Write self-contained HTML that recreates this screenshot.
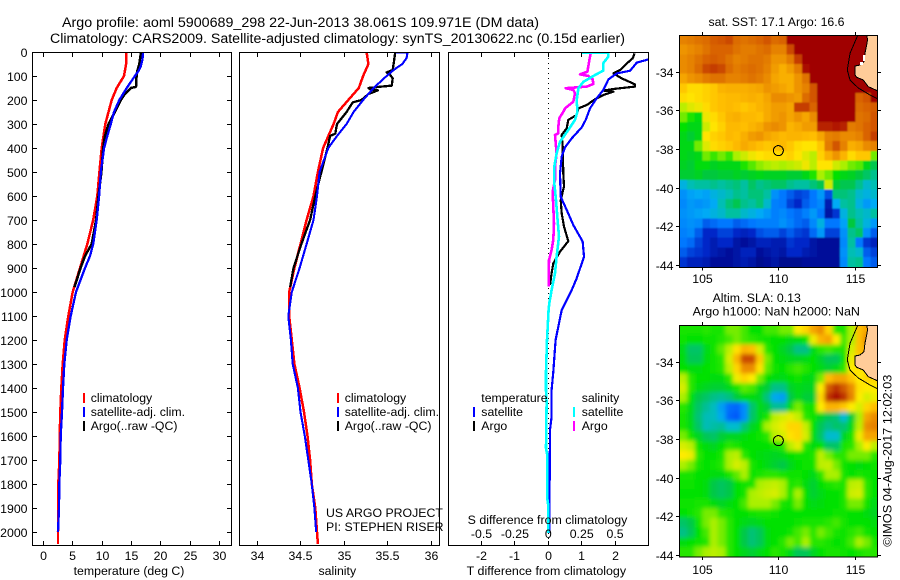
<!DOCTYPE html>
<html lang="en">
<head>
<meta charset="utf-8">
<title>Argo profile 5900689_298</title>
<style>
html,body{margin:0;padding:0;background:#fff;}
svg{display:block;font-family:"Liberation Sans",sans-serif;font-size:12.3px;fill:#000;}
text{stroke:none;fill:#000;}
.t14{font-size:14.1px;}
</style>
</head>
<body>
<svg id="chart" xmlns="http://www.w3.org/2000/svg" width="900" height="580" viewBox="0 0 900 580" shape-rendering="crispEdges">
<defs>
<clipPath id="clipT"><rect x="33" y="53" width="198" height="492"/></clipPath>
<clipPath id="clipS"><rect x="240" y="53" width="199" height="492"/></clipPath>
<clipPath id="clipD"><rect x="449" y="53" width="199" height="492"/></clipPath>
<clipPath id="clipM1"><rect x="680" y="36" width="197" height="231"/></clipPath>
<clipPath id="clipM2"><rect x="680" y="326" width="197" height="231"/></clipPath>
<filter id="blurSmall" x="-5%" y="-5%" width="110%" height="110%"><feGaussianBlur stdDeviation="0.8"/></filter>
<filter id="blurBig" x="-5%" y="-5%" width="110%" height="110%"><feGaussianBlur stdDeviation="2.2"/></filter>
</defs>
<rect x="0" y="0" width="900" height="580" fill="#fff"/>
<text class="t14" x="62" y="27" textLength="477" lengthAdjust="spacingAndGlyphs">Argo profile: aoml 5900689_298 22-Jun-2013 38.061S 109.971E (DM data)</text>
<text class="t14" x="50" y="43" textLength="575" lengthAdjust="spacingAndGlyphs">Climatology: CARS2009. Satellite-adjusted climatology: synTS_20130622.nc (0.15d earlier)</text>
<g id="layer"></g>
<g>
<rect x="83" y="393" width="2" height="10" fill="#f00"/>
<text x="90.7" y="402">climatology</text>
<rect x="83" y="407" width="2" height="10" fill="#00f"/>
<text x="90.7" y="416">satellite-adj. clim.</text>
<rect x="83" y="421" width="2" height="10" fill="#000"/>
<text x="90.7" y="430">Argo(..raw -QC)</text>
</g>
<g>
<rect x="337" y="393" width="2" height="10" fill="#f00"/>
<text x="344.7" y="402">climatology</text>
<rect x="337" y="407" width="2" height="10" fill="#00f"/>
<text x="344.7" y="416">satellite-adj. clim.</text>
<rect x="337" y="421" width="2" height="10" fill="#000"/>
<text x="344.7" y="430">Argo(..raw -QC)</text>
</g>
<text x="326" y="517">US ARGO PROJECT</text>
<text x="326" y="531">PI: STEPHEN RISER</text>
<g>
<text x="481.3" y="402">temperature</text>
<rect x="473" y="407" width="2" height="10" fill="#00f"/>
<text x="481.3" y="416">satellite</text>
<rect x="473" y="421" width="2" height="10" fill="#000"/>
<text x="481.3" y="430">Argo</text>
<text x="581.7" y="402">salinity</text>
<rect x="573" y="407" width="2" height="10" fill="#0ff"/>
<text x="581.7" y="416">satellite</text>
<rect x="573" y="421" width="2" height="10" fill="#f0f"/>
<text x="581.7" y="430">Argo</text>
</g>
<text x="129" y="575" text-anchor="middle">temperature (deg C)</text>
<text x="337.3" y="575" text-anchor="middle">salinity</text>
<text x="467.7" y="524" textLength="159.6" lengthAdjust="spacingAndGlyphs">S difference from climatology</text>
<text x="466.7" y="575" textLength="159.4" lengthAdjust="spacingAndGlyphs">T difference from climatology</text>
<text x="776.5" y="26" text-anchor="middle">sat. SST: 17.1 Argo: 16.6</text>
<text x="756.7" y="302" text-anchor="middle">Altim. SLA: 0.13</text>
<text x="692.7" y="315.5" textLength="167.3" lengthAdjust="spacingAndGlyphs">Argo h1000: NaN h2000: NaN</text>
<text transform="translate(891.5 546.7) rotate(-90)" textLength="172" lengthAdjust="spacingAndGlyphs">©IMOS 04-Aug-2017 12:02:03</text>
</svg>
<script>
// Depth profile panels: data
const depthTicks = [0,100,200,300,400,500,600,700,800,900,1000,1100,1200,1300,1400,1500,1600,1700,1800,1900,2000];
const tempTicks = [0,5,10,15,20,25,30];
const salTicks = [34,34.5,35,35.5,36];
const salTickLabels = ['34','34.5','35','35.5','36'];
const tDiffTicks = [-2,-1,0,1,2];
const sDiffTicks = [-0.5,-0.25,0,0.25,0.5];
const sDiffTickLabels = ['-0.5','-0.25','0','0.25','0.5'];

const climDepths = [0,50,100,150,200,250,300,400,500,600,700,800,900,1000,1100,1200,1300,1400,1500,1600,1700,1800,1900,2000,2050];
const tempClim = [14.1,14.1,13.75,12.5,11.65,11.1,10.56,9.95,9.55,9.2,8.5,7.5,6.25,5.0,4.26,3.64,3.3,3.07,2.9,2.8,2.75,2.55,2.55,2.5,2.5];
const salClim = [35.26,35.28,35.22,35.17,35.05,34.93,34.88,34.76,34.7,34.65,34.57,34.5,34.43,34.37,34.37,34.4,34.43,34.49,34.54,34.58,34.61,34.63,34.67,34.69,34.7];

const tempSatDepths = [0,30,60,80,100,150,200,250,300,350,400,500,600,700,800,850,900,1000,1100,1200,1300,1400,1500,1600,1700,1800,1900,2000];
const tempSat = [17.0,16.9,16.6,16.2,15.6,14.2,12.95,12.05,11.5,10.9,10.35,9.8,9.5,9.1,8.5,7.95,7.1,5.57,4.67,3.98,3.58,3.36,3.19,2.96,2.9,2.73,2.68,2.5];
const tempArgoDepths = [0,50,80,100,145,150,175,200,250,300,350,400,500,600,700,800,850,900,980];
const tempArgo = [16.65,16.35,16.0,15.9,15.8,14.9,13.9,13.2,12.2,11.1,10.5,10.2,9.9,9.4,9.0,8.25,7.1,6.35,5.3];

const salSatDepths = [0,2,25,50,75,100,150,200,250,300,350,400,500,600,700,800,900,1000,1100,1200,1300,1400,1500,1600,1700,1800,1900,2000];
const salSat = [35.51,35.73,35.72,35.67,35.57,35.49,35.34,35.22,35.11,35.03,34.92,34.82,34.72,34.69,34.65,34.57,34.49,34.4,34.36,34.39,34.41,34.47,34.5,34.55,34.59,34.63,34.66,34.68];
const salArgoDepths = [0,50,75,85,95,110,140,145,150,155,160,175,200,210,250,300,340,350,400,500,600,700,800,900,980];
const salArgo = [35.59,35.57,35.56,35.49,35.53,35.56,35.55,35.41,35.28,35.3,35.39,35.28,35.2,35.1,35.03,34.92,34.9,34.84,34.81,34.74,34.67,34.61,34.51,34.42,34.38];

const tDiffSatDepths = [25,31,44,78,89,114,158,193,235,283,314,360,397,436,506,603,658,721,790,853,943,992,1075,1200,1332,1408,1519,1575,2005];
const tDiffSat = [3.1,3.0,2.65,2.45,2.05,1.8,1.65,1.45,1.25,1.12,1.0,0.7,0.5,0.4,0.35,0.37,0.55,0.75,1.03,1.07,0.85,0.7,0.4,0.22,0.15,0.1,0.1,0.05,0.03];
const tDiffArgoDepths = [6,26,54,75,89,110,135,144,154,161,165,179,197,221,235,262,283,318,346,394,506,561,617,672,728,788,832,881,922,971];
const tDiffArgo = [2.58,2.53,2.3,2.15,1.95,2.2,2.6,2.6,1.95,1.65,1.95,1.65,1.4,1.15,0.9,0.85,0.6,0.55,0.4,0.43,0.45,0.47,0.37,0.4,0.47,0.6,0.35,0.15,0.1,0.05];
const sDiffSatDepths = [2,3,19,47,78,96,124,151,200,249,283,325,374,422,478,547,617,686,769,853,922,992,1047,1075,1200,1332,1408,1464,1651,1679,1861,1889,2005];
const sDiffSat = [0.25,0.45,0.45,0.41,0.41,0.35,0.2625,0.225,0.2125,0.2175,0.2,0.15,0.0875,0.0625,0.045,0.045,0.0575,0.0675,0.08,0.0625,0.05,0.025,0.0075,0.0025,-0.01,-0.0175,-0.0175,-0.0125,-0.0175,-0.0075,-0.0075,0,0];
const sDiffArgoDepths = [6,33,82,93,100,114,133,144,151,158,172,207,235,249,276,311,339,346,422,478,533,582,644,714,783,825,867,978];
const sDiffArgo = [0.3175,0.3075,0.2925,0.2375,0.3,0.3325,0.3375,0.2875,0.13,0.1875,0.2,0.1875,0.125,0.1125,0.0825,0.075,0.075,0.05,0.0625,0.05,0.05,0.0325,0.0375,0.0425,0.0375,0.025,0.005,0.0025];

// Map panels: data
const lonTicks = [105,110,115];
const latTicks = [34,36,38,40,42,44];
const argoLon = 109.971;
const argoLat = 38.061;
const sstGrid = [
[17.6,17.7,17.8,17.9,18.1,18.2,18.3,17.9,17.8,17.9,18.0,18.2,17.9,18.0,19,19,19,19,19,19,19,19,19,19,19,19],
[17.4,17.5,17.6,17.8,18,18,18,17.8,17.7,17.7,17.8,17.9,17.6,17.6,18.3,19,19,19,19,19,19,19,19,19,19,19],
[17.5,17.6,17.8,18.0,18.1,18.0,17.8,17.6,17.7,17.8,17.8,17.7,17.4,17.4,17.7,18.4,19,19,19,19,19,19,19,19,19,19],
[17.5,17.6,17.9,18.3,18.4,18.3,17.9,17.7,17.8,17.9,17.8,17.6,17.3,17,17.3,17.7,18.8,19,19,19,19,19,19,19,19,19],
[17.2,17.4,17.5,17.7,17.8,17.8,17.6,17.6,17.7,17.8,17.7,17.5,17.2,17,17,17.4,17.8,19,19,19,19,19,19,19,19,19],
[16.6,16.4,16.4,16.5,16.6,16.9,17,17,17.0,17.1,17.2,17.4,17.3,17.2,17,17.4,17.6,18.2,19,19,19,19,19,19,19,19],
[16.4,16.3,16.4,16.5,16.6,16.7,16.8,16.8,16.9,17,16.9,17.2,17.5,17.5,17.4,17.3,17.9,18.2,19,19,19,19,19,18.0,18.2,19],
[15.9,16.1,16.2,16.4,16.6,16.7,16.8,16.7,16.6,16.7,16.9,17.1,17.3,17.3,17.2,18.4,18.4,18.0,19,19,19,19,19,17.9,18,18.1],
[15.6,15.3,15.1,16.2,16.4,16.6,16.9,17,16.8,16.8,16.7,17.1,17.3,17.4,17.2,17.4,17.2,17.5,19,19,19,19,19,17.8,17.9,18.2],
[15.2,15,15,16,16.3,16.5,16.8,16.8,16.7,16.9,17.1,17.4,17.5,17.4,16.9,17.1,17.3,17.3,18.6,18.6,18.7,18.6,17.7,17.8,18,18.2],
[15,14.8,15,16.3,16.5,16.6,16.8,16.7,17,17.3,17.4,17.2,17,16.8,16.9,16.9,16.8,16.7,17.2,17.6,17.7,17.5,17.5,17.6,18,18.4],
[15,15,15.6,16.1,16.4,16.5,16.6,16.8,17.1,16.9,16.7,16.6,16.7,16.8,16.6,16.4,16.3,16.3,16.6,17.7,18.2,17.6,17,17.2,17.5,17.6],
[15,14.9,15,15.6,15.4,15.6,15.4,15.8,16,16.2,16.3,16.4,16.4,16.4,16.5,16.3,16.1,15.9,16.5,17.0,17.4,16.9,16.4,16.6,16.6,15.6],
[14.9,14.8,15.1,15.1,14.9,15.0,15,15,15.3,15.5,15.7,15.8,15.9,15.8,15.9,16,16.2,15.9,16.3,16.3,16,15.8,15.6,15.5,15,14.6],
[14.8,14.8,14.9,14.7,14.7,14.8,14.8,14.9,14.8,14.9,15,14.9,14.9,14.9,14.8,14.8,15,15.3,15.8,15.6,15.2,15,14.9,14.7,14.5,14.3],
[13.9,14.1,14.2,14.2,14.3,14.2,14.3,14.4,14.2,14.5,14.3,14.4,14.5,14.5,14.3,14.2,14.2,14.4,14.6,16,14.8,14.6,14.6,14.3,14,14.1],
[13.5,13.7,13.8,13.7,13.9,14,14.1,14.3,14.2,14.4,14.4,14.2,13.5,13.2,13.0,12.8,12.9,13.2,13.6,12.9,14.4,14.4,14.3,14,13.9,14],
[13.4,13.6,13.5,13.6,13.8,14.1,14.4,14.6,14.3,14.2,14.4,14,13.3,13.2,12.8,12.6,13.0,13.2,13.4,12.4,13.8,14.2,14.3,13.9,13.6,13.8],
[13.5,13.6,13.7,13.8,13.9,14.0,14.2,14.2,14.0,13.9,13.8,13.6,13.3,13.4,13.2,13.1,13.3,13.6,13.2,12.3,12.7,13.9,14.3,14.1,14,14.2],
[13.4,13.5,13.4,13,13.1,13.2,13.2,13.0,13.1,13.2,13.3,13.3,13.3,13.5,13.3,13.1,13,13.4,13.9,13.2,13.2,13.7,14.7,14.2,13.9,13.6],
[13.3,13.4,13,12.6,12.6,12.8,12.8,12.6,12.5,12.6,12.9,13,13,12.8,13,12.8,12.7,13.1,13.6,12.8,12.8,13.5,14.3,14.5,13.5,13],
[13.2,13.1,12.8,12.6,12.4,12.6,12.6,12.3,12.2,12.3,12.5,12.5,12.4,12.4,12.7,12.6,12.6,12.3,12.2,12.2,12.2,13.4,14.2,13.2,12.7,12.5],
[13,12.8,12.7,12.6,12.4,12.3,12.2,12.3,12.5,12.5,12.2,12.3,12.4,12.3,12.6,12.6,12.4,12.3,12.2,12.2,12.2,13.5,14.1,14.0,13,12.8],
[12.7,12.5,12.5,12.4,12.2,12.2,12.2,12.3,12.4,12.3,12.1,12.2,12.3,12.1,12.1,12.1,12.2,12.2,12.2,12.2,12.2,13.4,14.2,14.3,13.2,13]
];
const slaGrid = [
[.03,.03,.03,.05,.03,.03,.08,.08,.06,0,0,.06,.06,.08,.08,.2,.25,.35,.4,.25,.05,.03,.1,.3,.35,.3],
[.02,0,0,.02,.02,.04,.06,.08,.06,.05,.03,.02,0,0,-.03,-.02,.02,.18,.32,.35,.2,.06,.1,.3,.4,.3],
[-.03,-.14,-.14,-.03,.02,.07,.12,.22,.32,.3,.15,.04,0,-.05,-.1,-.18,-.18,-.03,.05,.06,.04,.04,.15,.3,.35,.3],
[-.02,-.12,-.12,-.02,.02,.05,.15,.32,.52,.52,.28,.08,0,-.02,-.04,-.05,-.03,0,-.06,-.12,-.12,.02,.18,.25,.3,.3],
[0,-.02,-.02,0,.02,.04,.12,.25,.4,.4,.22,.07,.02,0,.05,.06,.04,0,-.03,-.07,-.03,.05,.2,.22,.2,.2],
[.12,.05,0,0,-.02,-.02,.05,.18,.25,.2,.08,0,-.02,-.03,0,.02,-.02,-.03,.08,.3,.35,.35,.28,.2,.25,.25],
[.15,.05,-.02,-.05,-.07,-.07,-.03,.03,.07,.06,-.03,-.08,-.18,-.18,-.06,-.03,-.05,-.05,.2,.5,.55,.5,.4,.22,.2,.2],
[.1,0,-.1,-.14,-.18,-.2,-.17,-.08,-.02,-.02,-.05,-.17,-.33,-.35,-.1,-.03,-.08,-.08,.25,.55,.62,.55,.42,.2,.15,.18],
[.05,-.03,-.14,-.2,-.25,-.35,-.45,-.47,-.38,-.15,-.03,-.08,-.2,-.2,-.02,.08,.03,.02,.2,.32,.32,.28,.2,.15,.25,.3],
[.03,-.04,-.16,-.24,-.25,-.33,-.47,-.5,-.38,-.14,-.03,.03,.12,.15,.17,.13,.05,.02,-.05,-.12,-.16,-.28,-.08,.1,.35,.4],
[.03,-.03,-.14,-.24,-.22,-.2,-.27,-.27,-.16,-.05,0,.1,.15,.18,.25,.25,.13,0,-.12,-.18,-.14,-.16,-.03,.12,.4,.42],
[.08,.02,-.05,-.12,-.14,-.08,-.05,-.05,-.02,0,.02,.05,.12,.15,.22,.25,.15,-.02,-.14,-.27,-.27,-.05,.03,.18,.35,.35],
[.15,.12,.02,-.02,-.05,0,.05,.03,0,0,0,0,.03,.05,.12,.17,.05,-.02,0,-.14,-.14,.03,.05,.1,.2,.12],
[.2,.18,.05,0,0,.03,.1,.12,.05,0,-.02,-.03,-.05,-.03,0,.02,.02,.03,.12,.08,.05,.05,.08,.08,.08,.05],
[.1,.08,.03,0,.02,.04,.1,.15,.12,.03,0,-.03,-.07,-.1,-.04,0,.02,.02,.12,.13,.08,.02,0,-.02,0,.02],
[.03,.03,0,0,-.02,-.02,.03,.07,.1,.02,.03,.05,.05,.03,.02,.02,0,-.03,.05,.1,.1,.03,0,.03,.02,0],
[.02,.02,0,-.02,-.1,-.13,-.1,0,.02,.03,.1,.12,.13,.1,.03,.05,-.02,-.07,0,.03,.05,.03,.12,.13,.05,0],
[0,0,0,-.02,-.1,-.13,-.1,0,.02,.1,.12,.14,.15,.1,.03,.1,0,-.07,-.03,0,0,.03,.14,.15,.05,0],
[.02,.02,.03,.03,-.02,-.05,-.02,0,.06,.1,.1,.1,.08,.03,.02,.08,0,-.03,-.02,0,0,.03,.08,.08,.02,-.03],
[0,.02,.05,.08,.08,.05,.03,0,0,.02,.03,.03,.02,0,0,0,0,0,0,0,.02,.02,0,0,-.02,-.05],
[-.14,-.1,.02,.08,.1,.08,.05,0,-.03,-.05,-.03,0,0,0,0,.02,.03,.03,.03,.05,.06,.03,0,0,0,-.02],
[-.18,-.12,0,.06,.1,.08,.05,0,-.1,-.16,-.12,-.02,0,0,.02,.06,.08,.05,.08,.06,.03,.02,.05,.06,.02,0],
[-.02,0,.02,.04,.1,.08,.05,0,-.1,-.16,-.12,-.02,0,.05,.08,.06,.1,.05,.05,.03,0,.02,.06,.1,.08,.03],
[.05,.05,.08,.1,.12,.1,.05,0,-.04,-.07,-.03,0,.05,.03,-.03,-.12,-.12,-.05,0,.03,.03,.02,0,.03,.05,.05]
];

// Colour scales
const sstStops = [[12,0,0,130],[12.6,0,40,200],[13.2,0,120,255],[13.8,0,170,245],[14.1,0,190,180],[14.7,0,200,60],[15.2,0,225,0],[15.8,170,240,0],[16.3,255,228,0],[16.7,255,190,0],[17.2,245,165,0],[17.6,230,130,0],[18.2,210,85,0],[18.8,170,10,0],[19,160,0,0]];
const slaStops = [[-.5,0,90,250],[-.4,0,130,255],[-.3,0,185,230],[-.2,0,190,150],[-.1,0,200,70],[0,0,225,0],[.05,40,230,0],[.1,170,240,0],[.2,255,235,0],[.3,255,190,0],[.4,235,140,0],[.5,210,90,0],[.6,170,10,0]];
function colorFor(v, stops){
  if(v<=stops[0][0]) return 'rgb('+stops[0].slice(1).join(',')+')';
  for(let i=1;i<stops.length;i++){
    if(v<=stops[i][0]){
      const a=stops[i-1],b=stops[i],f=(v-a[0])/(b[0]-a[0]);
      return 'rgb('+[1,2,3].map(k=>Math.round(a[k]+(b[k]-a[k])*f)).join(',')+')';
    }
  }
  return 'rgb('+stops[stops.length-1].slice(1).join(',')+')';
}

// Axis functions
const NS='http://www.w3.org/2000/svg';
const layer=document.getElementById('layer');
const depthY=d=>52+d*0.24;
const tempX=t=>43.3+t*5.87;
const salX=s=>257+(s-34)*87;
const tDiffX=v=>548.3+v*33.4;
const sDiffX=v=>548.3+v*133.6;
const lonX=l=>702.3+(l-105)*15.3;
const latY1=l=>35+(l-32.07)*19.3;
const latY2=l=>325+(l-32.07)*19.3;
const px=v=>Math.round(v-0.5)+0.5;

function el(tag,parent){
  const e=document.createElementNS(NS,tag);
  parent.appendChild(e);
  return e;
}
function seg(parent,x1,y1,x2,y2){
  const l=el('line',parent);
  
  
  l.setAttribute('x1',x1);l.setAttribute('y1',y1);l.setAttribute('x2',x2);l.setAttribute('y2',y2);
  l.setAttribute('stroke','#000');l.setAttribute('stroke-width','1');
  return l;
}
function label(parent,x,y,str,anchor){
  const t=el('text',parent);
  
  
  t.setAttribute('x',x);t.setAttribute('y',y);t.setAttribute('text-anchor',anchor);
  t.textContent=str;
  return t;
}
function frame(parent,x,y,w,h){
  const r=el('rect',parent);
  
  
  r.setAttribute('x',x);r.setAttribute('y',y);r.setAttribute('width',w);r.setAttribute('height',h);
  r.setAttribute('fill','none');r.setAttribute('stroke','#000');r.setAttribute('stroke-width','1');
}
function line(parent,depths,vals,xf,color,w){
  const p=el('polyline',parent);
  
  
  p.setAttribute('points',depths.map((d,i)=>xf(vals[i]).toFixed(1)+','+depthY(d).toFixed(1)).join(' '));
  p.setAttribute('fill','none');p.setAttribute('stroke',color);p.setAttribute('stroke-width',w);
  p.setAttribute('stroke-linejoin','round');
}
function group(clip){
  const g=el('g',layer);
  
  
  if(clip) g.setAttribute('clip-path','url(#'+clip+')');
  return g;
}

// Temperature panel
const gT=group('clipT');
line(gT,climDepths,tempClim,tempX,'#f00',2.5);
line(gT,tempArgoDepths,tempArgo,tempX,'#000',2.5);
line(gT,tempSatDepths,tempSat,tempX,'#00f',2.3);
const aT=group();
frame(aT,32.5,52.5,199,493);
depthTicks.forEach(d=>{
  const y=px(depthY(d));
  seg(aT,32.5,y,37,y);
  seg(aT,227,y,231.5,y);
  label(aT,27.5,y+4.5,String(d),'end');
});
tempTicks.forEach(t=>{
  const x=px(tempX(t));
  seg(aT,x,52.5,x,57);
  seg(aT,x,541,x,545.5);
  label(aT,x,560,String(t),'middle');
});

// Salinity panel
const gS=group('clipS');
line(gS,climDepths,salClim,salX,'#f00',2.5);
line(gS,salArgoDepths,salArgo,salX,'#000',2.3);
line(gS,salSatDepths,salSat,salX,'#00f',2.1);
const aS=group();
frame(aS,239.5,52.5,200,493);
salTicks.forEach((s,i)=>{
  const x=px(salX(s));
  seg(aS,x,52.5,x,57);
  seg(aS,x,541,x,545.5);
  label(aS,x,560,salTickLabels[i],'middle');
});

// Difference panel
const zero=el('line',layer);


zero.setAttribute('x1',px(tDiffX(0)));zero.setAttribute('x2',px(tDiffX(0)));
zero.setAttribute('y1',53);zero.setAttribute('y2',545);
zero.setAttribute('stroke','#000');zero.setAttribute('stroke-width','1');zero.setAttribute('stroke-dasharray','1 4');
const gD=group('clipD');
line(gD,tDiffArgoDepths,tDiffArgo,tDiffX,'#000',2.2);
line(gD,tDiffSatDepths,tDiffSat,tDiffX,'#00f',2.2);
line(gD,sDiffArgoDepths,sDiffArgo,sDiffX,'#f0f',2.6);
line(gD,sDiffSatDepths,sDiffSat,sDiffX,'#0ff',2.6);
const aD=group();
frame(aD,448.5,52.5,200,493);
tDiffTicks.forEach(v=>{
  const x=px(tDiffX(v));
  seg(aD,x,52.5,x,57);
  seg(aD,x,541,x,545.5);
  label(aD,x,560,String(v),'middle');
});
sDiffTicks.forEach((v,i)=>{
  label(aD,sDiffX(v),538,sDiffTickLabels[i],'middle');
});

// Maps
function drawMap(grid,stops,latY,clip,blur,frameTop,frameH,labelBase,showNotch){
  const outer=group(clip);
  const inner=el('g',outer);
  
  
  inner.setAttribute('filter','url(#'+blur+')');
  const cellDeg=0.5;
  const bleed=12;
  const lastRow=grid.length-1;
  grid.forEach((row,j)=>{
    const lastCol=row.length-1;
    row.forEach((v,i)=>{
      const c=el('rect',inner);
      
      
      const lon0=103.5+i*cellDeg, lat0=32.07+j*cellDeg;
      let x=lonX(lon0), y=latY(lat0);
      let w=lonX(lon0+cellDeg)-x+0.6, h=latY(lat0+cellDeg)-y+0.6;
      if(i===0){x-=bleed;w+=bleed;}
      if(i===lastCol){w+=bleed;}
      if(j===0){y-=bleed;h+=bleed;}
      if(j===lastRow){h+=bleed;}
      c.setAttribute('x',x.toFixed(2));
      c.setAttribute('y',y.toFixed(2));
      c.setAttribute('width',w.toFixed(2));
      c.setAttribute('height',h.toFixed(2));
      c.setAttribute('fill',colorFor(v,stops));
    });
  });
  const dy=frameTop-35.5;
  const land=el('polygon',outer);
  
  
  land.setAttribute('points',[[866.7,34],[867.5,40],[866.7,45],[865,53],[864,61.7],[860,65],[855,66],[855,75],[856.7,77.3],[863.3,80],[868.3,86.7],[878,91],[878,34]].map(p=>p[0]+','+(p[1]+dy)).join(' '));
  land.setAttribute('fill','#ffcc99');
  land.setAttribute('stroke','#000');land.setAttribute('stroke-width','1');
  if(showNotch){
    const notchA=el('rect',outer);
    
    
    notchA.setAttribute('x',863);notchA.setAttribute('y',55);notchA.setAttribute('width',2);notchA.setAttribute('height',6);notchA.setAttribute('fill','#fff');
    const notchB=el('rect',outer);
    
    
    notchB.setAttribute('x',860);notchB.setAttribute('y',62);notchB.setAttribute('width',3);notchB.setAttribute('height',3);notchB.setAttribute('fill','#fff');
  }
  const contour=el('polyline',outer);
  
  
  contour.setAttribute('points',[[858.3,34],[850,53.3],[847.3,70],[850,80],[858.3,88],[870,95],[878,99]].map(p=>p[0]+','+(p[1]+dy)).join(' '));
  contour.setAttribute('fill','none');contour.setAttribute('stroke','#000');contour.setAttribute('stroke-width','1');
  const ax=group();
  frame(ax,679.5,frameTop,198,frameH);
  lonTicks.forEach(l=>{
    const x=px(lonX(l));
    seg(ax,x,frameTop-3.5,x,frameTop);
    seg(ax,x,frameTop+frameH,x,frameTop+frameH+3);
    label(ax,x,labelBase,String(l),'middle');
  });
  latTicks.forEach(l=>{
    const y=px(latY(l));
    seg(ax,676,y,679.5,y);
    seg(ax,877.5,y,881,y);
    label(ax,673.5,y+4.5,'-'+l,'end');
  });
  const c=el('circle',ax);
  
  
  c.setAttribute('cx',lonX(argoLon));c.setAttribute('cy',latY(argoLat));c.setAttribute('r',5);
  c.setAttribute('fill','none');c.setAttribute('stroke','#000');c.setAttribute('stroke-width','1');
}
drawMap(sstGrid,sstStops,latY1,'clipM1','blurSmall',35.5,232,283,true);
drawMap(slaGrid,slaStops,latY2,'clipM2','blurBig',325.5,231.5,574,false);
</script>
</body>
</html>
